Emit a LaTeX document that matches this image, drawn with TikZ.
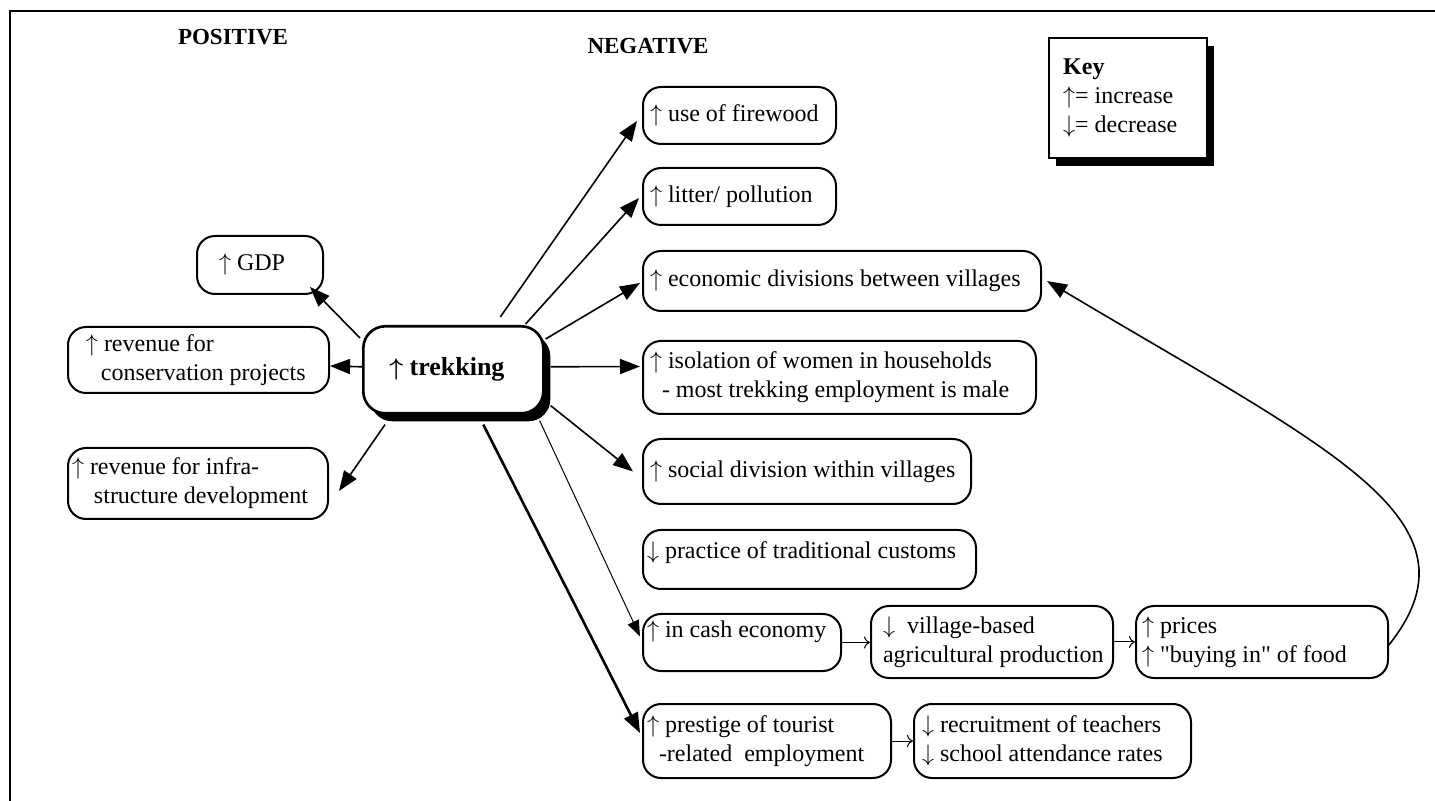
\documentclass[tikz,border=0pt]{standalone}
\usepackage{fontspec}
\setmainfont{Liberation Serif}
\newfontfamily\nolig{Liberation Serif}
\usetikzlibrary{arrows.meta,calc,shadows}
\newlength\pxu
\setlength\pxu{0.5pt}
\newcommand\bxc[4]{\begin{minipage}[c][#2\pxu][c]{#1\pxu}\leftskip=#3\pxu\relax #4\end{minipage}}
\newcommand\bxtop[5]{\begin{minipage}[c][#2\pxu][t]{#1\pxu}\vspace*{#4\pxu}\leftskip=#3\pxu\relax #5\end{minipage}}
\begin{document}
\begin{tikzpicture}[x=0.5pt,y=-0.5pt,
  bx/.style={draw, line width=1pt, rounded corners=9pt, anchor=north west, inner sep=0pt, fill=white, font=\fontsize{12}{14.5}\selectfont},
  shd/.style={drop shadow={shadow xshift=3.5pt, shadow yshift=-4pt, opacity=1, fill=black}},
  arr/.style={line width=0.8pt, -{Triangle[length=10pt,width=7.5pt]}},
  sarr/.style={line width=0.5pt, -{To[length=3pt,width=6pt]}},
  head/.style={font=\bfseries\fontsize{11.5}{13}\selectfont}
]
\useasboundingbox (0,0) rectangle (1435,801);
\draw[line width=1pt] (10,801) -- (10,11) -- (1435,11);

\node[head] (pos) at (233,37) {POSITIVE};
\node[head] (neg) at (648,46) {NEGATIVE};

\node[bx, rounded corners=0pt, line width=1.2pt, shd] (key) at (1048,37)
  {\bxc{158}{120}{14}{\textbf{Key}\\$\uparrow$= increase\\$\downarrow$= decrease}};

\node[bx, line width=1.3pt, rounded corners=11pt, shd, font=\bfseries\fontsize{13}{15}\selectfont] (trek) at (362,325)
  {\bxc{180}{87}{26}{{\boldmath$\uparrow$} trekking}};

% positive
\node[bx] (gdp) at (196,235) {\bxc{126}{58}{22}{$\uparrow$ GDP}};
\node[bx] (cons) at (67,326) {\bxc{261}{66}{18}{$\uparrow$ revenue for\\\hspace*{7.5pt}conservation projects}};
\node[bx] (infra) at (67,447) {\bxc{260}{71}{4}{$\uparrow$ revenue for infra-\\\hspace*{11pt}structure development}};

% negative
\node[bx] (fire) at (642,86) {\bxc{193}{57}{7}{$\uparrow$ use of firewood}};
\node[bx] (litter) at (642,167) {\bxc{193}{57}{7}{$\uparrow$ litter/ pollution}};
\node[bx] (econ) at (642,250) {\bxc{398}{60}{7}{$\uparrow$ economic divisions between villages}};
\node[bx] (iso) at (642,340) {\bxc{393}{73}{7}{$\uparrow$ isolation of women in households\\\hspace*{6pt}- most trekking employment is male}};
\node[bx] (social) at (642,438) {\bxc{328}{65}{7}{$\uparrow$ social division within villages}};
\node[bx] (practice) at (642,529) {\bxtop{333}{59}{4}{12}{$\downarrow$ practice of traditional customs}};
\node[bx] (cash) at (642,613) {\bxtop{198}{57}{4}{7}{$\uparrow$ in cash economy}};
\node[bx] (village) at (870,605) {\bxc{242}{72}{12}{$\downarrow$\ \ village-based\\agricultural production}};
\node[bx] (prices) at (1135,605) {\bxc{252}{72}{6}{$\uparrow$ prices\\$\uparrow$ {\nolig"buying in"} of food}};
\node[bx] (prestige) at (642,703) {\bxc{248}{74}{4}{$\uparrow$ prestige of tourist\\\hspace*{6pt}-related\ \ employment}};
\node[bx] (school) at (913,703) {\bxc{277}{74}{8}{$\downarrow$ recruitment of teachers\\$\downarrow$ school attendance rates}};

% connectors
\draw[arr] ($(trek.north west)+(-2,13)$) -- ($(gdp.south east)+(-14,-8)$);
\draw[arr] ($(trek.west)+(0,-3)$) -- ($(cons.east)+(0,6)$);
\draw[arr] ($(trek.south west)+(23,10)$) -- ($(infra.east)+(10,7.5)$);
\draw[arr] ($(trek.north)+(47,-8)$) -- ($(fire.west)+(-5,5.5)$);
\draw[arr] ($(trek.north east)+(-19,-1)$) -- ($(litter.west)+(-3,1.5)$);
\draw[arr] ($(trek.north east)+(1,14)$) -- ($(econ.west)+(-2,2)$);
\draw[arr] ($(trek.east)+(6,-3)$) -- ($(iso.west)+(-2,-11)$);
\draw[arr] ($(trek.south east)+(6,-9)$) -- ($(social.west)+(-9,0)$);
\draw[line width=0.5pt, -{Triangle[length=8pt,width=6pt]}] ($(trek.south east)+(-5,6)$) -- ($(cash.west)+(-2,-6)$);
\draw[line width=1.3pt, -{Triangle[length=10pt,width=7.5pt]}] ($(trek.south)+(30,10)$) -- ($(prestige.west)+(-2,-8)$);

\draw[sarr] (cash.east) -- (cash.east -| village.west);
\draw[sarr] (village.east) -- (village.east -| prices.west);
\draw[sarr] (prestige.east) -- (prestige.east -| school.west);

\draw[arr] ($(prices.east)+(-1,4)$) .. controls (1490,520) and (1330,450) .. ($(econ.east)+(5,0)$);
\end{tikzpicture}
\end{document}
